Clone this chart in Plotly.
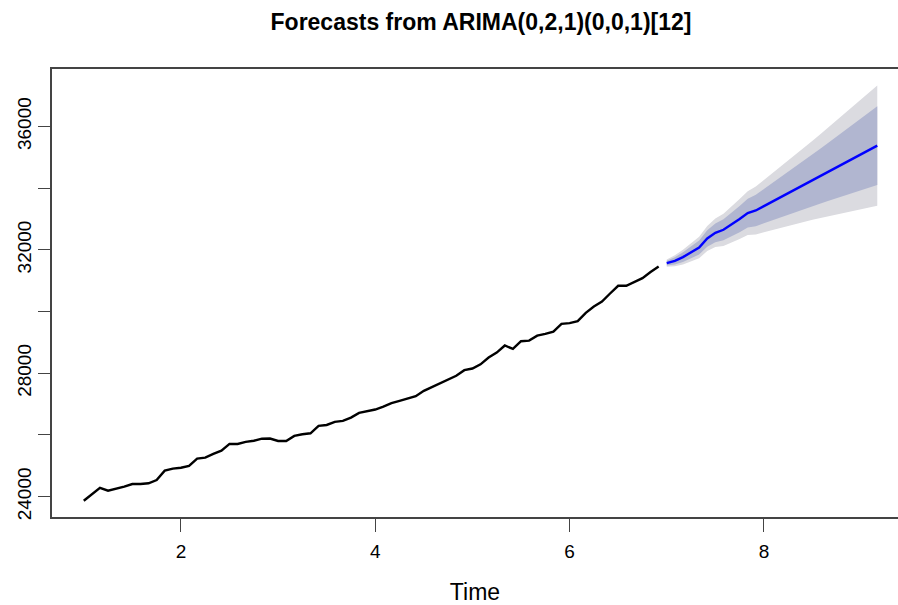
import plotly.graph_objects as go

# Monthly series (frequency 12), starting at time 1
start_time = 1.0
freq = 12
observed = [
    23870, 24080, 24290, 24195, 24250, 24325, 24410, 24410, 24435, 24540, 24845, 24910,
    24940, 25000, 25235, 25265, 25385, 25490, 25710, 25710, 25775, 25815, 25880, 25885,
    25805, 25805, 25970, 26025, 26055, 26295, 26325, 26425, 26455, 26565, 26715, 26780,
    26825, 26920, 27030, 27105, 27180, 27255, 27430, 27550, 27660, 27795, 27920, 28100,
    28155, 28290, 28510, 28670, 28900, 28790, 29040, 29060, 29220, 29275, 29350, 29600,
    29625, 29690, 29960, 30165, 30325, 30585, 30835, 30835, 30965, 31085, 31280, 31460,
]

# Point forecasts for the next 27 months
fc_mean = [
    31571, 31645, 31765, 31927, 32077, 32369, 32553, 32651, 32813, 32998, 33192, 33277,
    33417, 33557, 33697, 33837, 33977, 34117, 34257, 34397, 34537, 34677, 34817, 34957,
    35097, 35237, 35377,
]
# 80% prediction interval
lo80 = [
    31494, 31527, 31610, 31736, 31849, 32104, 32250, 32309, 32431, 32575, 32727, 32769,
    32864, 32959, 33053, 33146, 33237, 33328, 33418, 33506, 33594, 33681, 33767, 33852,
    33936, 34019, 34102,
]
hi80 = [
    31648, 31763, 31920, 32118, 32305, 32634, 32856, 32993, 33195, 33421, 33657, 33785,
    33970, 34155, 34341, 34528, 34717, 34906, 35096, 35288, 35480, 35673, 35867, 36062,
    36258, 36455, 36652,
]
# 95% prediction interval
lo95 = [
    31453, 31465, 31528, 31635, 31729, 31964, 32090, 32128, 32229, 32351, 32481, 32500,
    32572, 32643, 32712, 32780, 32846, 32910, 32974, 33035, 33095, 33154, 33211, 33267,
    33322, 33375, 33427,
]
hi95 = [
    31689, 31825, 32002, 32219, 32425, 32774, 33016, 33174, 33397, 33645, 33903, 34054,
    34262, 34471, 34682, 34894, 35108, 35324, 35540, 35759, 35979, 36200, 36423, 36647,
    36872, 37099, 37327,
]

y_tickvals = [24000, 26000, 28000, 30000, 32000, 34000, 36000]
y_ticktext = ["24000", "", "28000", "", "32000", "", "36000"]
x_tickvals = [2, 4, 6, 8]

t_obs = [start_time + i / freq for i in range(len(observed))]
t_fc = [start_time + (len(observed) + i) / freq for i in range(len(fc_mean))]

FONT = "Liberation Sans, Arial, Helvetica, sans-serif"
shade95 = "#DBDBE0"
shade80 = "#B1B6D0"

fig = go.Figure()
fig.add_trace(go.Scatter(x=t_fc, y=lo95, mode="lines", line=dict(width=0, color=shade95),
                         showlegend=False, hoverinfo="skip"))
fig.add_trace(go.Scatter(x=t_fc, y=hi95, mode="lines", line=dict(width=0, color=shade95),
                         fill="tonexty", fillcolor=shade95, showlegend=False, hoverinfo="skip"))
fig.add_trace(go.Scatter(x=t_fc, y=lo80, mode="lines", line=dict(width=0, color=shade80),
                         showlegend=False, hoverinfo="skip"))
fig.add_trace(go.Scatter(x=t_fc, y=hi80, mode="lines", line=dict(width=0, color=shade80),
                         fill="tonexty", fillcolor=shade80, showlegend=False, hoverinfo="skip"))
fig.add_trace(go.Scatter(x=t_obs, y=observed, mode="lines", line=dict(color="black", width=2.4),
                         showlegend=False))
fig.add_trace(go.Scatter(x=t_fc, y=fc_mean, mode="lines", line=dict(color="#0000FF", width=2.4),
                         showlegend=False))

fig.update_layout(
    width=898, height=605,
    margin=dict(l=52, r=0, t=69, b=88),
    paper_bgcolor="white", plot_bgcolor="white",
    font=dict(family=FONT, size=19, color="black"),
    title=dict(text="<b>Forecasts from ARIMA(0,2,1)(0,0,1)[12]</b>",
               font=dict(family=FONT, size=23, color="black"),
               x=481 / 898, xanchor="center", xref="container",
               y=1 - 22 / 605, yanchor="middle", yref="container"),
)
fig.update_xaxes(
    range=[0.673, 9.38], tickvals=x_tickvals, ticks="outside", ticklen=13,
    tickwidth=1, tickcolor="#444", showgrid=False, zeroline=False,
    showline=True, linecolor="#444", linewidth=1.5, mirror=True,
    ticklabelstandoff=3, automargin=False,
    title=dict(text="Time", standoff=36),
)
fig.update_yaxes(
    range=[23342, 37862], tickvals=y_tickvals, ticktext=y_ticktext, tickangle=-90,
    ticks="outside", ticklen=12, tickwidth=1, tickcolor="#444",
    showgrid=False, zeroline=False, showline=True, linecolor="#444", linewidth=1.5,
    mirror=False, automargin=False,
)

fig.write_html("out.html")
